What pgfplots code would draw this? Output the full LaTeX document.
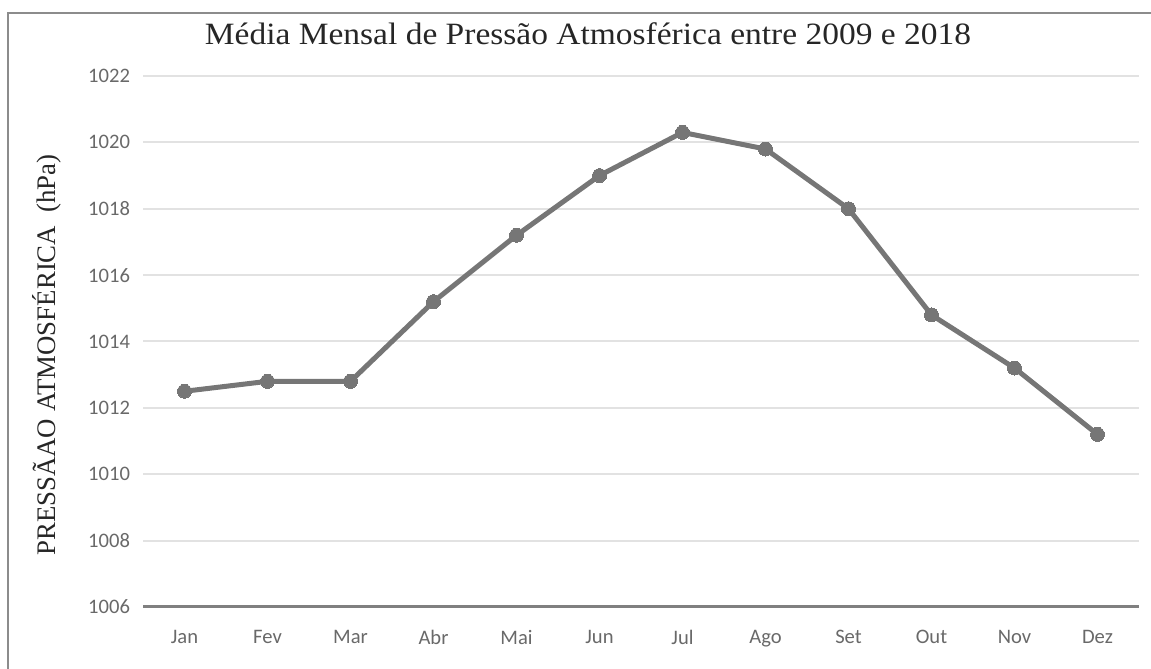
\documentclass[border=0pt]{standalone}
\usepackage{fontspec}
\setmainfont{Liberation Serif}
\newfontfamily\tickfont{Carlito}
\usepackage{pgfplots}
\pgfplotsset{compat=1.18}
\definecolor{linegray}{RGB}{118,118,118}
\definecolor{gridgray}{RGB}{226,226,226}
\definecolor{ticktext}{RGB}{105,105,105}
\definecolor{framegray}{RGB}{140,140,140}
\definecolor{axisgray}{RGB}{128,128,128}

\begin{document}
\begin{tikzpicture}
\useasboundingbox (-71.5pt,-31pt) rectangle (504pt,303.5pt);
\begin{axis}[
  at={(0,0)}, anchor=south west,
  scale only axis, width=498pt, height=265.5pt,
  xmin=-0.5, xmax=11.5, ymin=1006, ymax=1022,
  xtick={0,...,11},
  xticklabels={Jan,Fev,Mar,Abr,Mai,Jun,Jul,Ago,Set,Out,Nov,Dez},
  ytick={1006,1008,...,1022},
  axis x line*=bottom, axis y line*=left,
  x axis line style={draw=axisgray, line width=1.5pt, -},
  y axis line style={draw=none},
  major tick length=0pt,
  ymajorgrids, grid style={gridgray, line width=1pt},
  ticklabel style={font=\tickfont\fontsize{10.3}{12}\selectfont, text=ticktext},
  /pgf/number format/assume math mode=true,
  /pgf/number format/1000 sep={},
  yticklabel style={xshift=-3pt},
  xticklabel style={yshift=-8pt},
  clip=false,
]
% monthly mean pressure, hPa
\addplot[linegray, line width=2.5pt, line join=round,
  mark=*, mark size=3.5pt,
  mark options={fill=linegray, draw=linegray, line width=0pt}]
  coordinates {
  (0,1012.5) (1,1012.8) (2,1012.8) (3,1015.2) (4,1017.2) (5,1019.0)
  (6,1020.3) (7,1019.8) (8,1018.0) (9,1014.8) (10,1013.2) (11,1011.2)
  };
\end{axis}
% outer chart frame
\draw[framegray, line width=1pt] (-67.5pt,-31pt) -- (-67.5pt,297pt) -- (504pt,297pt);
\node[font=\fontsize{15.5}{18}\selectfont, text=black!85] at (222.5pt,286.5pt)
  {\scalebox{1.08}[1]{Média Mensal de Pressão Atmosférica entre 2009 e 2018}};
\node[rotate=90, font=\fontsize{13.4}{16}\selectfont, text=black!85] at (-48pt,126pt)
  {PRESSÃAO ATMOSFÉRICA \ (hPa)};
\end{tikzpicture}
\end{document}
